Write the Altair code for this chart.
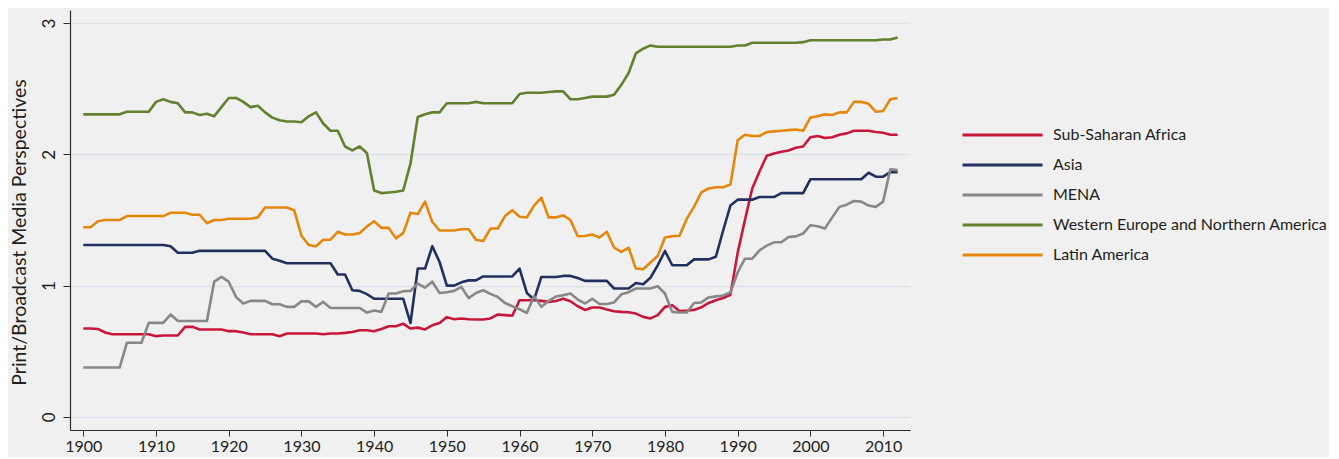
import altair as alt
import pandas as pd

years = list(range(1900, 2013))

regions = ["Sub-Saharan Africa", "Asia", "MENA",
           "Western Europe and Northern America", "Latin America"]
colors = ["#c8173a", "#22305f", "#888888", "#62812e", "#e5870b"]

ssa = [
    0.673, 0.673, 0.67, 0.643, 0.63, 0.63, 0.63, 0.63, 0.63, 0.63,
    0.615, 0.62, 0.62, 0.62, 0.686, 0.686, 0.666, 0.666, 0.666, 0.666,
    0.653, 0.653, 0.643, 0.63, 0.63, 0.63, 0.63, 0.615, 0.635, 0.635,
    0.635, 0.635, 0.635, 0.63, 0.635, 0.635, 0.64, 0.647, 0.66, 0.66,
    0.653, 0.67, 0.69, 0.69, 0.71, 0.673, 0.68, 0.666, 0.698, 0.716,
    0.76, 0.744, 0.75, 0.744, 0.742, 0.742, 0.75, 0.78, 0.775, 0.77,
    0.889, 0.889, 0.889, 0.884, 0.876, 0.883, 0.90, 0.881, 0.843, 0.815,
    0.833, 0.833, 0.818, 0.805, 0.80, 0.797, 0.787, 0.762, 0.75, 0.775,
    0.838, 0.85, 0.807, 0.81, 0.815, 0.835, 0.868, 0.888, 0.906, 0.93,
    1.25, 1.50, 1.74, 1.87, 1.99, 2.006, 2.02, 2.03, 2.05, 2.06,
    2.13, 2.14, 2.125, 2.13, 2.15, 2.16, 2.18, 2.18, 2.18, 2.17,
    2.165, 2.15, 2.15,
]

asia = [
    1.31, 1.31, 1.31, 1.31, 1.31, 1.31, 1.31, 1.31, 1.31, 1.31,
    1.31, 1.31, 1.30, 1.25, 1.25, 1.25, 1.265, 1.265, 1.265, 1.265,
    1.265, 1.265, 1.265, 1.265, 1.265, 1.265, 1.205, 1.19, 1.17, 1.17,
    1.17, 1.17, 1.17, 1.17, 1.17, 1.085, 1.085, 0.965, 0.96, 0.935,
    0.90, 0.90, 0.90, 0.90, 0.90, 0.715, 1.13, 1.13, 1.30, 1.18,
    1.00, 1.00, 1.025, 1.04, 1.04, 1.07, 1.07, 1.07, 1.07, 1.07,
    1.13, 0.944, 0.894, 1.066, 1.066, 1.066, 1.074, 1.074, 1.058, 1.036,
    1.036, 1.036, 1.036, 0.978, 0.978, 0.978, 1.02, 1.01, 1.06, 1.155,
    1.264, 1.155, 1.155, 1.155, 1.20, 1.20, 1.20, 1.22, 1.42, 1.61,
    1.655, 1.655, 1.655, 1.675, 1.675, 1.675, 1.705, 1.705, 1.705, 1.705,
    1.81, 1.81, 1.81, 1.81, 1.81, 1.81, 1.81, 1.81, 1.86, 1.83,
    1.83, 1.865, 1.865,
]

mena = [
    0.376, 0.376, 0.376, 0.376, 0.376, 0.376, 0.565, 0.565, 0.565, 0.716,
    0.716, 0.716, 0.78, 0.73, 0.73, 0.73, 0.73, 0.73, 1.03, 1.066,
    1.03, 0.914, 0.864, 0.884, 0.884, 0.884, 0.858, 0.858, 0.838, 0.838,
    0.88, 0.88, 0.838, 0.876, 0.83, 0.83, 0.83, 0.83, 0.83, 0.795,
    0.81, 0.80, 0.94, 0.94, 0.957, 0.96, 1.016, 0.985, 1.03, 0.944,
    0.95, 0.96, 0.99, 0.905, 0.944, 0.965, 0.937, 0.914, 0.868, 0.843,
    0.82, 0.792, 0.92, 0.838, 0.884, 0.917, 0.927, 0.94, 0.894, 0.864,
    0.90, 0.86, 0.86, 0.872, 0.934, 0.95, 0.978, 0.978, 0.978, 0.995,
    0.94, 0.80, 0.795, 0.795, 0.868, 0.872, 0.91, 0.918, 0.925, 0.948,
    1.10, 1.205, 1.205, 1.268, 1.305, 1.33, 1.33, 1.37, 1.375, 1.397,
    1.46, 1.452, 1.435, 1.52, 1.60, 1.617, 1.645, 1.64, 1.61, 1.60,
    1.64, 1.886, 1.88,
]

weur = [
    2.305, 2.305, 2.305, 2.305, 2.305, 2.305, 2.325, 2.325, 2.325, 2.325,
    2.40, 2.42, 2.40, 2.39, 2.32, 2.32, 2.30, 2.31, 2.29, 2.36,
    2.43, 2.43, 2.40, 2.36, 2.37, 2.32, 2.28, 2.26, 2.25, 2.25,
    2.245, 2.29, 2.32, 2.235, 2.18, 2.18, 2.06, 2.03, 2.06, 2.01,
    1.725, 1.705, 1.71, 1.715, 1.725, 1.93, 2.285, 2.305, 2.32, 2.32,
    2.39, 2.39, 2.39, 2.39, 2.40, 2.39, 2.39, 2.39, 2.39, 2.39,
    2.46, 2.47, 2.47, 2.47, 2.475, 2.48, 2.48, 2.42, 2.42, 2.43,
    2.44, 2.44, 2.44, 2.455, 2.53, 2.62, 2.77, 2.805, 2.83, 2.82,
    2.82, 2.82, 2.82, 2.82, 2.82, 2.82, 2.82, 2.82, 2.82, 2.82,
    2.83, 2.83, 2.85, 2.85, 2.85, 2.85, 2.85, 2.85, 2.85, 2.855,
    2.87, 2.87, 2.87, 2.87, 2.87, 2.87, 2.87, 2.87, 2.87, 2.87,
    2.875, 2.875, 2.89,
]

latam = [
    1.445, 1.445, 1.49, 1.50, 1.50, 1.50, 1.53, 1.53, 1.53, 1.53,
    1.53, 1.53, 1.555, 1.555, 1.555, 1.54, 1.54, 1.475, 1.50, 1.50,
    1.51, 1.51, 1.51, 1.51, 1.52, 1.595, 1.595, 1.595, 1.595, 1.575,
    1.38, 1.31, 1.30, 1.35, 1.35, 1.41, 1.39, 1.39, 1.40, 1.45,
    1.49, 1.44, 1.44, 1.36, 1.40, 1.555, 1.545, 1.64, 1.485, 1.42,
    1.42, 1.42, 1.43, 1.43, 1.35, 1.34, 1.435, 1.435, 1.53, 1.575,
    1.525, 1.52, 1.61, 1.67, 1.52, 1.52, 1.535, 1.50, 1.376, 1.378,
    1.39, 1.366, 1.41, 1.29, 1.257, 1.29, 1.13, 1.125, 1.176, 1.226,
    1.366, 1.376, 1.38, 1.51, 1.60, 1.71, 1.74, 1.75, 1.75, 1.77,
    2.107, 2.15, 2.14, 2.14, 2.17, 2.175, 2.18, 2.185, 2.19, 2.18,
    2.28, 2.29, 2.305, 2.30, 2.32, 2.32, 2.40, 2.40, 2.385, 2.325,
    2.33, 2.42, 2.43,
]

x_ticks = list(range(1900, 2011, 10))
y_ticks = [0, 1, 2, 3]

series = [ssa, asia, mena, weur, latam]
rows = []
for name, vals in zip(regions, series):
    assert len(vals) == len(years), name
    for yr, v in zip(years, vals):
        rows.append({"year": yr, "value": v, "region": name})
df = pd.DataFrame(rows)

FONT = "Lato"
TXT = "#231f20"
AX = "#2b2b2b"

chart = alt.Chart(df).mark_line(strokeWidth=2.6, strokeJoin="round").encode(
    x=alt.X(
        "year:Q",
        scale=alt.Scale(domain=[1898.17, 2013.7], nice=False, zero=False),
        axis=alt.Axis(
            values=x_ticks, format="d", title=None, grid=False,
            tickSize=6, tickColor=AX, domainColor=AX, domainWidth=1.2,
            labelFontSize=16, labelFont=FONT, labelColor=TXT, labelPadding=2,
        ),
    ),
    y=alt.Y(
        "value:Q",
        scale=alt.Scale(domain=[-0.1, 3.1], nice=False, zero=False),
        axis=alt.Axis(
            values=y_ticks, format="d", grid=True, gridColor="#dde2ea", gridWidth=1.5,
            tickSize=7, tickColor=AX, domainColor=AX, domainWidth=1.2,
            labelAngle=270, labelAlign="center", labelBaseline="alphabetic",
            labelPadding=9, labelFontSize=17, labelFont=FONT, labelColor=TXT,
            title="Print/Broadcast Media Perspectives",
            titleAngle=270, titleX=-45, titleY=222, titleAlign="center",
            titleBaseline="alphabetic", titleFontSize=19.5, titleFont=FONT,
            titleFontWeight="normal", titleColor=TXT,
        ),
    ),
    color=alt.Color(
        "region:N",
        scale=alt.Scale(domain=regions, range=colors),
        legend=alt.Legend(
            title=None, orient="none", legendX=891, legendY=116,
            symbolType="stroke", symbolSize=6400, symbolStrokeWidth=3,
            clipHeight=18, rowPadding=12, labelOffset=9,
            labelFontSize=16, labelFont=FONT, labelColor=TXT, labelLimit=400,
        ),
    ),
).properties(
    width=840,
    height=420,
    background="#f0f0f0",
    padding={"left": 62, "top": 2, "right": 419, "bottom": 27},
    autosize=alt.AutoSizeParams(type="none"),
).configure_view(stroke=None)

chart.save("out.html", embed_options={"renderer": "svg", "actions": False})
